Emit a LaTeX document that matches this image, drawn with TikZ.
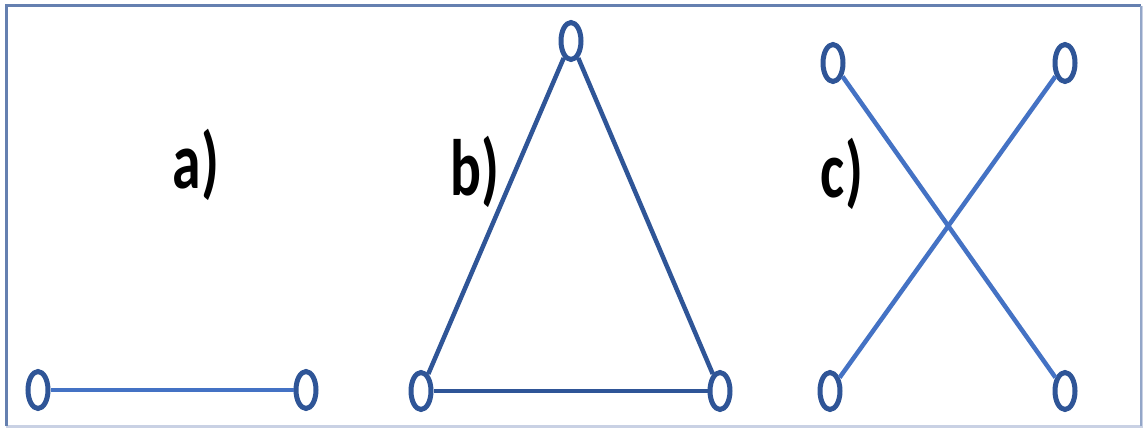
\documentclass[tikz,border=0pt]{standalone}
\usepackage{fontspec}
\setmainfont{Carlito}
\usetikzlibrary{shapes.geometric}
\definecolor{nodeblue}{HTML}{2F5597}
\definecolor{lineblue}{HTML}{4472C4}
\definecolor{framedark}{HTML}{6580B0}
\definecolor{framelight}{HTML}{C9D1E4}
\begin{document}
\begin{tikzpicture}[x=1pt,y=-1pt,
  vtx/.style={ellipse,draw=nodeblue,line width=5pt,minimum width=20pt,minimum height=37pt,inner sep=0pt,fill=white},
  lightedge/.style={draw=lineblue,line width=4.5pt},
  darkedge/.style={draw=nodeblue,line width=4.5pt},
  lbl/.style={inner sep=0pt,font=\fontsize{80}{82}\selectfont\bfseries}]
\useasboundingbox (0,0) rectangle (1144,428);
\fill[white] (0,0) rectangle (1144,428);
\draw[framelight,line width=3pt] (1141,6) -- (1141,426) -- (6,426);
\draw[framedark,line width=3pt] (6,426) -- (6,6) -- (1141,6);
\draw[framedark!70!white,line width=2pt] (1141,6) -- (1141,426);
% a)
\node[vtx] (a1) at (38,390) {};
\node[vtx] (a2) at (306,390) {};
\draw[lightedge] (a1) -- (a2);
\node[lbl] (la) at (196,165) {\scalebox{0.72}[1]{a)}};
% b)
\node[vtx] (b1) at (571,41) {};
\node[vtx] (b2) at (421,391) {};
\node[vtx] (b3) at (720,391) {};
\draw[darkedge] (b1) -- (b2);
\draw[darkedge] (b2) -- (b3);
\draw[darkedge] (b3) -- (b1);
\node[lbl] (lb) at (475,172) {\scalebox{0.72}[1]{b)}};
% c)
\node[vtx] (c1) at (833,63) {};
\node[vtx] (c2) at (1065,63) {};
\node[vtx] (c3) at (830,391) {};
\node[vtx] (c4) at (1065,391) {};
\draw[lightedge] (c1) -- (c4);
\draw[lightedge] (c2) -- (c3);
\node[lbl] (lc) at (842,174) {\scalebox{0.72}[1]{c)}};
\end{tikzpicture}
\end{document}
